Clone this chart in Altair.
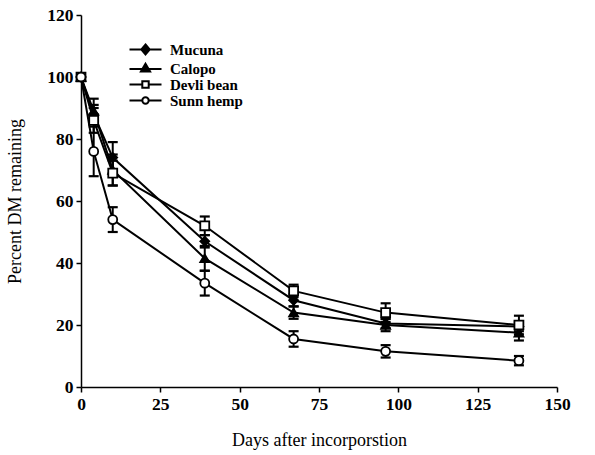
import altair as alt
import pandas as pd

days = [0, 4, 10, 39, 67, 96, 138]
series_names = ["Mucuna", "Calopo", "Devli bean", "Sunn hemp"]
mucuna = [100, 88, 74, 47, 28, 20.5, 19.5]
mucuna_err = [0, 3, 5, 2, 2, 1.5, 1.5]
calopo = [100, 89, 70, 41.5, 24, 20, 17.5]
calopo_err = [0, 4, 5, 4, 2, 2, 2.5]
devli = [100, 86, 69, 52, 31, 24, 20]
devli_err = [0, 4, 4, 3, 2, 3, 3]
sunn = [100, 76, 54, 33.5, 15.5, 11.5, 8.5]
sunn_err = [0, 8, 4, 4, 2.5, 2, 1.5]

rows = []
for name, vals, errs in zip(series_names, [mucuna, calopo, devli, sunn],
                            [mucuna_err, calopo_err, devli_err, sunn_err]):
    for d, v, e in zip(days, vals, errs):
        rows.append({"day": d, "value": v, "err": e, "series": name})
df = pd.DataFrame(rows)
df["lo"] = df["value"] - df["err"]
df["hi"] = df["value"] + df["err"]

legend_df = pd.DataFrame({"lg": series_names, "day": [-100] * 4, "value": [50] * 4})

FONT = "Liberation Serif"
xs = alt.Scale(domain=[0, 150], nice=False)
ys = alt.Scale(domain=[0, 120], nice=False)

x_enc = alt.X("day:Q", scale=xs, axis=alt.Axis(
    title="Days after incorporstion", values=[0, 25, 50, 75, 100, 125, 150],
    grid=False, titleY=44, labelFlush=False))
y_enc = alt.Y("value:Q", scale=ys, axis=alt.Axis(
    title="Percent DM remaining", values=[0, 20, 40, 60, 80, 100, 120],
    grid=False, titleX=-57, labelFlush=False))

base = alt.Chart(df)

lines = base.mark_line(color="black", strokeWidth=2).encode(
    x=x_enc, y=y_enc, detail="series:N")

rules = base.mark_rule(color="black", strokeWidth=2).encode(
    x="day:Q", y="lo:Q", y2="hi:Q")

caps_hi = base.mark_point(shape="stroke", size=100, color="black", strokeWidth=2.2,
                          opacity=1).encode(x="day:Q", y="hi:Q")
caps_lo = base.mark_point(shape="stroke", size=100, color="black", strokeWidth=2.2,
                          opacity=1).encode(x="day:Q", y="lo:Q")

points = base.mark_point(filled=True, stroke="black", strokeWidth=1.8, size=80,
                         opacity=1).encode(
    x="day:Q", y="value:Q",
    shape=alt.Shape("series:N", scale=alt.Scale(
        domain=series_names, range=["diamond", "triangle-up", "square", "circle"]),
        legend=None),
    fill=alt.Fill("series:N", scale=alt.Scale(
        domain=series_names, range=["black", "black", "white", "white"]),
        legend=None),
)

paths = [
    "M-4,0H4M0,-1.25L1.05,0L0,1.25L-1.05,0Z",
    "M-4,0.1H4M0,-1.2L1.15,0.75L-1.15,0.75Z",
    "M-4,0H-0.8M0.8,0H4M-0.8,-0.8H0.8V0.8H-0.8Z",
    "M-4,0H-0.8M0.8,0H4M-0.8,0A0.8,0.8,0,1,1,0.8,0A0.8,0.8,0,1,1,-0.8,0Z",
]
leg = alt.Legend(title=None, orient="none", legendX=57, legendY=27, padding=0,
                 symbolSize=64, symbolStrokeWidth=2,
                 labelFont=FONT, labelFontSize=15, labelFontWeight="bold",
                 labelColor="black", labelOffset=17, rowPadding=0)
legend_layer = alt.Chart(legend_df).mark_point(
    filled=True, stroke="black", strokeWidth=2, size=64, clip=True, opacity=1).encode(
    x="day:Q", y="value:Q",
    shape=alt.Shape("lg:N", scale=alt.Scale(domain=series_names, range=paths), legend=leg),
    fill=alt.Fill("lg:N", scale=alt.Scale(domain=series_names,
                                          range=["black", "black", "white", "white"]),
                  legend=leg),
    stroke=alt.Stroke("lg:N", scale=alt.Scale(domain=series_names,
                                              range=["black", "black", "black", "black"]),
                      legend=leg),
)

chart = alt.layer(lines, rules, caps_hi, caps_lo, points, legend_layer).resolve_scale(
    shape="independent", fill="independent", stroke="independent"
).properties(
    width=476, height=372,
    autosize=alt.AutoSizeParams(type="none"),
    padding={"left": 81, "top": 15, "right": 38, "bottom": 68},
    background="white",
).configure_view(stroke=None).configure_axis(
    domainColor="black", domainWidth=1.5, tickColor="black", tickWidth=1.5,
    tickSize=5, labelFont=FONT, labelFontSize=17.5, labelFontWeight="bold",
    labelColor="black", titleFont=FONT, titleFontSize=18, titleFontWeight="normal",
    titleColor="black", labelPadding=3, labelFlush=False,
)

chart.save("out.html", embed_options={"renderer": "svg", "actions": False})
